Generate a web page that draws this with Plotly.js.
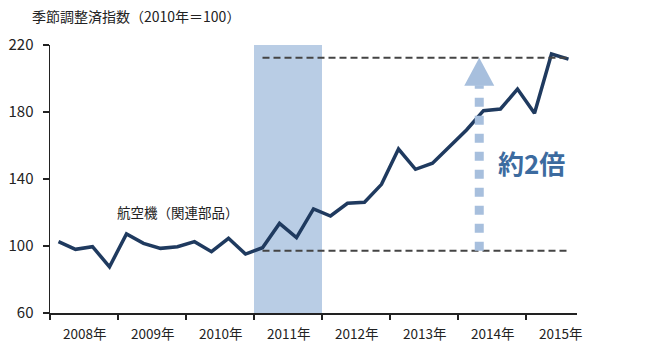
<!DOCTYPE html>
<html><head><meta charset="utf-8">
<script src="https://cdn.plot.ly/plotly-3.0.1.min.js"></script>
<style>html,body{margin:0;padding:0;background:#fff}</style>
</head><body><div id="chart" style="width:647px;height:362px"></div>
<script>
// ---- data ----
const years = ['2008年','2009年','2010年','2011年','2012年','2013年','2014年','2015年'];
const quarters = ['2008Q1','2008Q2','2008Q3','2008Q4','2009Q1','2009Q2','2009Q3','2009Q4',
  '2010Q1','2010Q2','2010Q3','2010Q4','2011Q1','2011Q2','2011Q3','2011Q4',
  '2012Q1','2012Q2','2012Q3','2012Q4','2013Q1','2013Q2','2013Q3','2013Q4',
  '2014Q1','2014Q2','2014Q3','2014Q4','2015Q1','2015Q2','2015Q3'];
const values = [102.6, 98.0, 99.6, 87.6, 107.2, 101.6, 98.6, 99.6,
  102.6, 96.6, 104.6, 95.2, 99.0, 113.5, 105.0, 122.1,
  117.9, 125.5, 126.1, 136.8, 157.9, 145.8, 149.4, 159.3,
  169.3, 180.8, 181.8, 193.7, 179.2, 214.6, 211.6];
const yTicks = [60, 100, 140, 180, 220];
const shadedYear = '2011年';
const baseLevel = 97.2;    // lower dashed reference
const peakLevel = 212.4;   // upper dashed reference
const refStart = '2011Q1';
const arrowQuarterPos = 24.75; // position (quarter index) of the arrow
const seriesLabel = '航空機（関連部品）';
const ratioLabel = '約2倍';
const titleText = '季節調整済指数（2010年＝100）';

// ---- derived ----
const xIdx = quarters.map((q, i) => i);
const nQ = quarters.length;
const yi = years.indexOf(shadedYear);
const refI = quarters.indexOf(refStart);
const font = '"Noto Sans CJK JP", "Noto Sans", sans-serif';

const shapes = [
  {type:'rect', xref:'x', yref:'paper', x0: yi*4-0.5, x1: yi*4+3.5, y0:0, y1:1,
   fillcolor:'#b9cde5', line:{width:0}, layer:'below'},
  {type:'line', xref:'x', yref:'y', x0: refI, x1: nQ-1, y0: baseLevel, y1: baseLevel,
   line:{color:'#444', width:2, dash:'7px,4px'}},
  {type:'line', xref:'x', yref:'y', x0: refI, x1: nQ-1, y0: peakLevel, y1: peakLevel,
   line:{color:'#444', width:2, dash:'7px,4px'}},
  // arrow shaft (dashed squares)
  {type:'line', xref:'x', yref:'y', x0: arrowQuarterPos, x1: arrowQuarterPos,
   y0: baseLevel, y1: peakLevel - 16.5,
   line:{color:'#a7bfdd', width:9, dash:'9px,9px'}},
  // arrow head
  {type:'path', xref:'x', yref:'y', xsizemode:'pixel', ysizemode:'pixel',
   xanchor: arrowQuarterPos, yanchor: peakLevel,
   path:'M -15,-28 L 0,0 L 15,-28 Z', fillcolor:'#a7bfdd', line:{width:0}}
];

const annotations = years.map((y, k) => ({
  x: 1.5 + 4*k, xref:'x', y: 0, yref:'paper', yshift:-20, text: y, showarrow:false,
  font:{family:font, size:13.5, color:'#222'}, yanchor:'middle'
}));
annotations.push({x: 7.03, xref:'x', y: 120.3, yref:'y', text: seriesLabel, showarrow:false,
  font:{family:font, size:13.5, color:'#222'}});
annotations.push({x: 27.85, xref:'x', y: 150, yref:'y', text: '<b>'+ratioLabel+'</b>', showarrow:false,
  font:{family:font, size:26, color:'#3c6b9f'}});

const trace = {
  x: xIdx, y: values, type:'scatter', mode:'lines', text: quarters,
  line:{color:'#1f3a5f', width:3.5}, hoverinfo:'text+y'
};

const layout = {
  width:647, height:362,
  margin:{l:50, r:70, t:45, b:49},
  paper_bgcolor:'#fff', plot_bgcolor:'#fff',
  showlegend:false,
  title:{text: titleText, xref:'container', x: 32/647, xanchor:'left',
         yref:'container', y: 1-17/362, yanchor:'middle',
         font:{family:font, size:14, color:'#222'}},
  xaxis:{range:[-0.5, nQ-0.5], showgrid:false, zeroline:false,
         showline:true, linecolor:'#222', linewidth:1.5,
         ticks:'outside', ticklen:5, tickwidth:1.5, tickcolor:'#222',
         tickvals: years.map((y,k)=>4*k-0.5), showticklabels:false},
  yaxis:{range:[60, 220], showgrid:false, zeroline:false,
         showline:true, linecolor:'#222', linewidth:1.5,
         ticks:'outside', ticklen:6, tickwidth:1.5, tickcolor:'#222',
         tickvals: yTicks, ticktext: yTicks.map(String),
         tickfont:{family:font, size:15, color:'#222'}, ticklabelstandoff:6},
  shapes, annotations
};

Plotly.newPlot('chart', [trace], layout, {displayModeBar:false, staticPlot:true});
</script>
</body></html>
